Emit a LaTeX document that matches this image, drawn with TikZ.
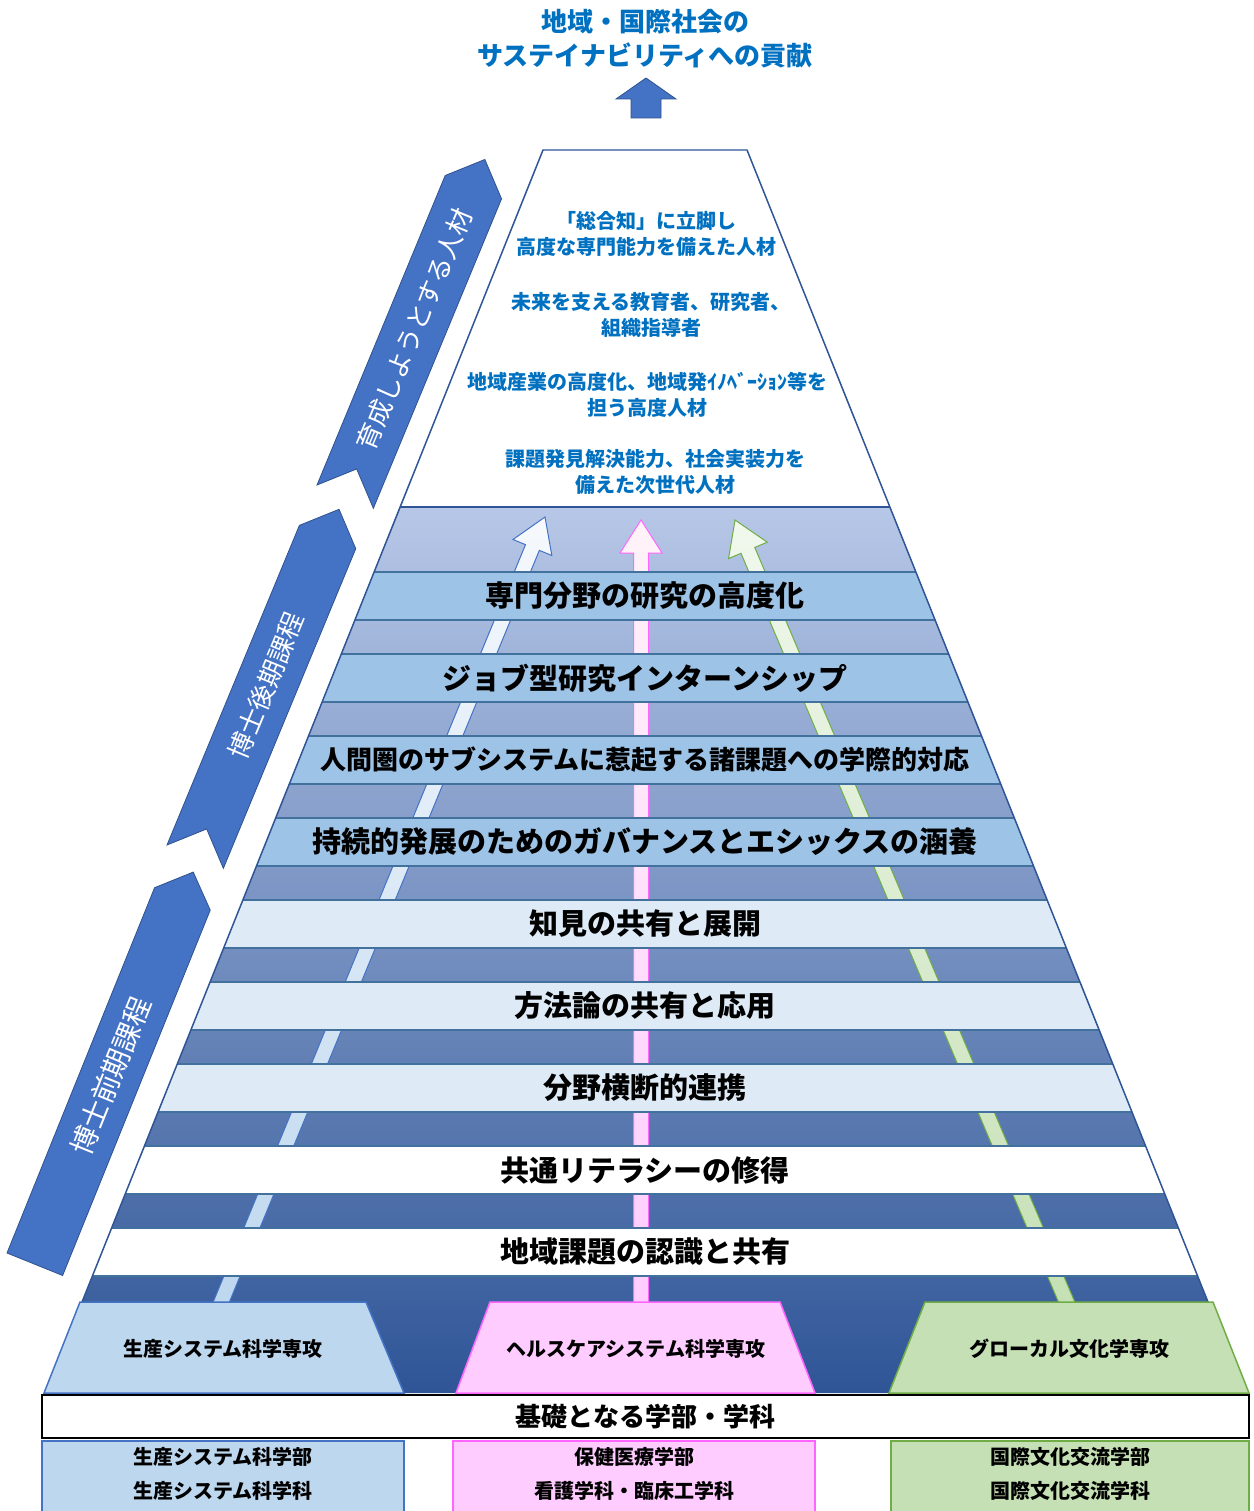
\documentclass[tikz,border=0pt]{standalone}
\usepackage{fontspec}
\setmainfont{Noto Sans CJK JP}
\usetikzlibrary{calc}

\definecolor{titleblue}{RGB}{0,112,192}
\definecolor{ribbonblue}{RGB}{68,114,196}
\definecolor{ribbonedge}{RGB}{47,82,143}
\definecolor{pyredge}{RGB}{47,85,151}
\definecolor{bandedge}{RGB}{65,113,156}
\definecolor{bandblue}{RGB}{157,195,230}
\definecolor{bandpale}{RGB}{222,235,247}
\definecolor{gradtop}{RGB}{183,199,231}
\definecolor{gradbot}{RGB}{47,85,151}
\definecolor{majorblue}{RGB}{189,215,238}
\definecolor{majorpink}{RGB}{255,204,255}
\definecolor{pinkedge}{RGB}{255,102,255}
\definecolor{majorgreen}{RGB}{197,224,180}
\definecolor{greenedge}{RGB}{112,173,71}
\definecolor{lightL}{RGB}{246,249,253}
\definecolor{lightP}{RGB}{255,243,248}
\definecolor{lightG}{RGB}{241,248,237}

\begin{document}
\begin{tikzpicture}[x=1bp,y=-1bp,
titolo/.style={text=titleblue,font=\fontsize{26bp}{34bp}\selectfont\bfseries,align=center},
meta/.style={text=titleblue,font=\fontsize{20bp}{26bp}\selectfont\bfseries,align=center},
fascia/.style={draw=bandedge,line width=1.2pt,minimum width=1400bp,minimum height=48bp,inner sep=0pt,font=\fontsize{29bp}{31bp}\selectfont\bfseries},
nastro/.style={fill=ribbonblue,draw=ribbonedge,line width=0.8pt},
nastrotesto/.style={text=white,font=\fontsize{26bp}{28bp}\selectfont},
freccia/.style={line width=1pt},
corso/.style={line width=1.5pt},
corsotesto/.style={font=\fontsize{20bp}{34bp}\selectfont\bfseries,align=center}
]
\fill[white] (0,0) rectangle (1253,1511);
\useasboundingbox (0,0) rectangle (1253,1511);
%--
\node[titolo](titolo) at (645,39){地域・国際社会の\\サステイナビリティへの貢献};
\draw[nastro] (631,118) -- (631,99) -- (616,99) -- (646,78) -- (676,99) -- (661,99) -- (661,118) -- cycle;
%/////////////////////////////////////////////////////////
\begin{scope}
\clip (400,507) -- (890,507) -- (1244.4,1393) -- (45.6,1393) -- cycle;
\fill[top color=gradtop,bottom color=gradbot] (0,507) rectangle (1253,1393);
%-- frecce
\coordinate (pL) at (218,1310); \coordinate (tL) at (545,517);
\coordinate (hL) at ($(tL)!33bp!(pL)$);
\draw[freccia,draw=ribbonblue,bottom color=majorblue,top color=lightL] ($(pL)!7.5bp!90:(tL)$) -- ($(hL)!7.5bp!90:(tL)$) -- ($(hL)!21bp!90:(tL)$) -- (tL) -- ($(hL)!21bp!-90:(tL)$) -- ($(hL)!7.5bp!-90:(tL)$) -- ($(pL)!7.5bp!-90:(tL)$) -- cycle;
\coordinate (pP) at (641,1310); \coordinate (tP) at (641,520);
\coordinate (hP) at ($(tP)!33bp!(pP)$);
\draw[freccia,draw=pinkedge,bottom color=majorpink,top color=lightP] ($(pP)!7.5bp!90:(tP)$) -- ($(hP)!7.5bp!90:(tP)$) -- ($(hP)!21bp!90:(tP)$) -- (tP) -- ($(hP)!21bp!-90:(tP)$) -- ($(hP)!7.5bp!-90:(tP)$) -- ($(pP)!7.5bp!-90:(tP)$) -- cycle;
\coordinate (pG) at (1070,1310); \coordinate (tG) at (735,520);
\coordinate (hG) at ($(tG)!33bp!(pG)$);
\draw[freccia,draw=greenedge,bottom color=majorgreen,top color=lightG] ($(pG)!7.5bp!90:(tG)$) -- ($(hG)!7.5bp!90:(tG)$) -- ($(hG)!21bp!90:(tG)$) -- (tG) -- ($(hG)!21bp!-90:(tG)$) -- ($(hG)!7.5bp!-90:(tG)$) -- ($(pG)!7.5bp!-90:(tG)$) -- cycle;
%-- fasce
\node[fascia,fill=bandblue](b1) at (645,596){専門分野の研究の高度化};
\node[fascia,fill=bandblue](b2) at (645,678){ジョブ型研究インターンシップ};
\node[fascia,fill=bandblue,font=\fontsize{26bp}{28bp}\selectfont\bfseries](b3) at (645,760){人間圏のサブシステムに惹起する諸課題への学際的対応};
\node[fascia,fill=bandblue](b4) at (645,842){持続的発展のためのガバナンスとエシックスの涵養};
\node[fascia,fill=bandpale](b5) at (645,924){知見の共有と展開};
\node[fascia,fill=bandpale](b6) at (645,1006){方法論の共有と応用};
\node[fascia,fill=bandpale](b7) at (645,1088){分野横断的連携};
\node[fascia,fill=white](b8) at (645,1170){共通リテラシーの修得};
\node[fascia,fill=white](b9) at (645,1252){地域課題の認識と共有};
\end{scope}
%--
\draw[line width=1.5pt,pyredge] (45.6,1393) -- (543,150) -- (747,150) -- (1244.4,1393);
\draw[line width=1.5pt,pyredge] (400,507) -- (890,507);
%--
\node[meta](m1) at (646,234){「総合知」に立脚し\\高度な専門能力を備えた人材};
\node[meta](m2) at (651,314.5){未来を支える教育者、研究者、\\組織指導者};
\node[meta](m3) at (647,395){地域産業の高度化、地域発ｲﾉﾍﾞｰｼｮﾝ等を\\担う高度人材};
\node[meta](m4) at (655,472){課題発見解決能力、社会実装力を\\備えた次世代人材};
%/////////////////////////////////////////////////////////
\begin{scope}[shift={(317,485)},rotate=67.5]
\draw[nastro] (0,0) -- (335,0) -- (365,30.5) -- (335,61) -- (0,61) -- (30,30.5) -- cycle;
\node[nastrotesto,rotate=67.5](n1) at (181,30.5){育成しようとする人材};
\end{scope}
%--
\begin{scope}[shift={(167,845)},rotate=67.5]
\draw[nastro] (0,0) -- (346,0) -- (376,30.5) -- (346,61) -- (0,61) -- (30,30.5) -- cycle;
\node[nastrotesto,rotate=67.5](n2) at (185,30.5){博士後期課程};
\end{scope}
%--
\begin{scope}[shift={(7,1253)},rotate=68]
\draw[nastro] (0,0) -- (394,0) -- (423,30) -- (394,60) -- (0,60) -- cycle;
\node[nastrotesto,font=\fontsize{28bp}{30bp}\selectfont,rotate=68](n3) at (203,30){博士前期課程};
\end{scope}
%/////////////////////////////////////////////////////////
\draw[corso,fill=majorblue,draw=ribbonblue] (44,1393) -- (80,1302) -- (366,1302) -- (404,1393) -- cycle;
\node[corsotesto](c1) at (223,1349){生産システム科学専攻};
\draw[corso,fill=majorpink,draw=pinkedge] (456,1393) -- (490,1302) -- (780,1302) -- (815,1393) -- cycle;
\node[corsotesto](c2) at (636,1349){ヘルスケアシステム科学専攻};
\draw[corso,fill=majorgreen,draw=greenedge] (889,1393) -- (925,1302) -- (1213,1302) -- (1249,1393) -- cycle;
\node[corsotesto](c3) at (1069,1349){グローカル文化学専攻};
%--
\node[draw=black,line width=2pt,fill=white,minimum width=1207bp,minimum height=43bp,inner sep=0pt,font=\fontsize{26bp}{28bp}\selectfont\bfseries](kiso) at (645.5,1416.5){基礎となる学部・学科};
%--
\draw[corso,fill=majorblue,draw=ribbonblue] (42,1441) rectangle (404,1514);
\node[corsotesto](d1) at (223,1474){生産システム科学部\\生産システム科学科};
\draw[corso,fill=majorpink,draw=pinkedge] (453,1441) rectangle (815,1514);
\node[corsotesto](d2) at (634,1474){保健医療学部\\看護学科・臨床工学科};
\draw[corso,fill=majorgreen,draw=greenedge] (891,1441) rectangle (1249,1514);
\node[corsotesto](d3) at (1070,1474){国際文化交流学部\\国際文化交流学科};
\end{tikzpicture}
\end{document}
